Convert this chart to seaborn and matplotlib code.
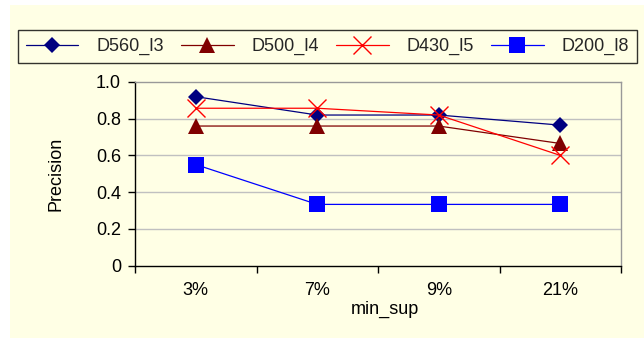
import numpy as np
import pandas as pd
import seaborn as sns
from matplotlib import pyplot as plt
from matplotlib.patches import Rectangle

sns.set_theme(style='white')
plt.rcParams['font.family'] = ['Liberation Sans', 'DejaVu Sans']

categories = ['3%', '7%', '9%', '21%']
series_names = ['D560_l3', 'D500_l4', 'D430_l5', 'D200_l8']
d560 = [0.92, 0.82, 0.82, 0.765]
d500 = [0.76, 0.76, 0.76, 0.665]
d430 = [0.857, 0.857, 0.82, 0.60]
d200 = [0.55, 0.333, 0.333, 0.333]

rows = []
for name, vals in zip(series_names, [d560, d500, d430, d200]):
    for i, v in enumerate(vals):
        rows.append({'min_sup': i, 'Precision': v, 'series': name})
df = pd.DataFrame(rows)

bg = '#FFFFE5'
fs = 13
palette = {'D560_l3': '#000080', 'D500_l4': '#800000', 'D430_l5': '#FF0000', 'D200_l8': '#0000FF'}
markers = {'D560_l3': 'D', 'D500_l4': '^', 'D430_l5': 'x', 'D200_l8': 's'}
msize = {'D560_l3': 8.5, 'D500_l4': 11, 'D430_l5': 13, 'D200_l8': 11.5}

fig = plt.figure(figsize=(6.44, 3.38), dpi=100, facecolor='white')
fig.patches.append(Rectangle((10/644, 0), 1, (338-5)/338, transform=fig.transFigure,
                             facecolor=bg, edgecolor='none', zorder=-10))
ax = fig.add_axes([135/644, (338-265.5)/338, (621-135)/644, (265.5-82)/338])
ax.set_facecolor(bg)

for name in series_names:
    sub = df[df['series'] == name]
    sns.lineplot(data=sub, x='min_sup', y='Precision', ax=ax, color=palette[name],
                 marker=markers[name], markersize=msize[name],
                 markeredgewidth=1 if name == 'D430_l5' else 0,
                 markeredgecolor=palette[name], linewidth=0.9, label=name)

ax.set_xlim(-0.5, 3.5)
ax.set_ylim(0, 1.0)
ax.set_xticks(range(len(categories)))
ax.set_xticklabels(categories)
ax.set_xticks(np.arange(-0.5, 4, 1), minor=True)
ax.tick_params(axis='x', which='major', length=0, pad=12, labelsize=fs, colors='black')
ax.tick_params(axis='x', which='minor', length=5, width=1, direction='out', bottom=True, color='black')
ax.set_yticks([0, 0.2, 0.4, 0.6, 0.8, 1.0])
ax.set_yticklabels(['0', '0.2', '0.4', '0.6', '0.8', '1.0'])
ax.tick_params(axis='y', length=5, width=1, direction='out', left=True, pad=5, labelsize=fs, colors='black')
for y in [0.2, 0.4, 0.6, 0.8]:
    ax.axhline(y, color='#C0C0C0', linewidth=1, zorder=0)
ax.spines['left'].set_color('black')
ax.spines['bottom'].set_color('black')
ax.spines['top'].set_color('#999999')
ax.spines['right'].set_color('#999999')
for s in ax.spines.values():
    s.set_linewidth(1)
ax.set_xlabel('min_sup', fontsize=fs, color='black')
ax.xaxis.set_label_coords(0.514, -0.19)
ax.set_ylabel('Precision', fontsize=fs, labelpad=23, color='black')

ax.get_legend().remove()
h, l = ax.get_legend_handles_labels()
leg = fig.legend(h, l, ncol=4, loc='upper left', bbox_to_anchor=(18/644, 1 - 30/338),
                 fontsize=fs, frameon=True, fancybox=False, handlelength=2.9,
                 borderaxespad=0, borderpad=0.45, columnspacing=0.95, handletextpad=1.0)
leg.get_frame().set_edgecolor('black')
leg.get_frame().set_facecolor(bg)
leg.get_frame().set_linewidth(1)

fig.savefig('out.png', dpi=100, facecolor='white')
